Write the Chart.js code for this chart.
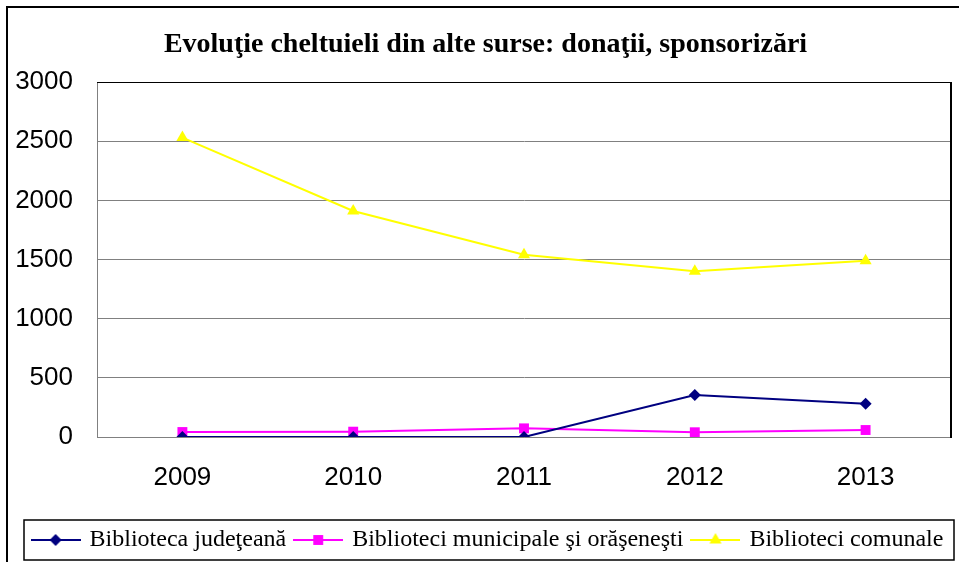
<!DOCTYPE html>
<html><head><meta charset="utf-8">
<script src="https://cdn.jsdelivr.net/npm/chart.js@4/dist/chart.umd.min.js"></script>
<style>html,body{margin:0;padding:0;background:#fff}#wrap{width:959px;height:562px}</style>
</head><body><div id="wrap"><canvas id="c" width="959" height="562"></canvas></div>
<script>
const chartTitle = 'Evoluţie cheltuieli din alte surse: donaţii, sponsorizări';
const years = ['2009', '2010', '2011', '2012', '2013'];
const seriesNames = ['Biblioteca judeţeană', 'Biblioteci municipale şi orăşeneşti', 'Biblioteci comunale'];
const judeteana = [0, 0, 0, 355, 280];
const municipale = [42, 45, 73, 40, 59];
const comunale = [2530, 1910, 1540, 1400, 1490];
const yTicks = [0, 500, 1000, 1500, 2000, 2500, 3000];

const colors = ['#000080', '#FF00FF', '#FFFF00'];
const shapes = ['rectRot', 'rect', 'triangle'];
const radii = [6, 7, 7];

function drawShape(ctx, shape, x, y, r) {
  ctx.beginPath();
  if (shape === 'rectRot') {
    ctx.moveTo(x - r, y); ctx.lineTo(x, y - r); ctx.lineTo(x + r, y); ctx.lineTo(x, y + r);
  } else if (shape === 'rect') {
    const s = Math.SQRT1_2 * r;
    ctx.rect(x - s, y - s, 2 * s, 2 * s);
  } else {
    for (let i = 0; i < 3; i++) {
      const a = i * 2 * Math.PI / 3;
      const px = x + Math.sin(a) * r, py = y - Math.cos(a) * r;
      if (i === 0) ctx.moveTo(px, py); else ctx.lineTo(px, py);
    }
  }
  ctx.closePath();
  ctx.fill();
}
function makeIcon(i) {
  const c = document.createElement('canvas');
  c.width = 50; c.height = 20;
  const g = c.getContext('2d');
  g.strokeStyle = colors[i]; g.fillStyle = colors[i]; g.lineWidth = 2;
  g.beginPath(); g.moveTo(0, 10); g.lineTo(50, 10); g.stroke();
  drawShape(g, shapes[i], 25, 10, radii[i]);
  return c;
}
const icons = [0, 1, 2].map(makeIcon);

const framePlugin = {
  id: 'frame',
  afterLayout(chart) {
    if (chart.legend) { chart.legend.left += 8; chart.legend.right += 8; }
    if (chart.titleBlock) { chart.titleBlock.left += 5; chart.titleBlock.right += 5; }
  },
  beforeDatasetsDraw(chart) {
    const {ctx, chartArea: a} = chart;
    ctx.save();
    ctx.strokeStyle = '#000';
    ctx.lineWidth = 1;
    ctx.beginPath(); ctx.moveTo(a.left, Math.round(a.top) + 0.5); ctx.lineTo(a.right, Math.round(a.top) + 0.5); ctx.stroke();
    ctx.lineWidth = 2;
    ctx.beginPath(); ctx.moveTo(Math.round(a.right), a.top); ctx.lineTo(Math.round(a.right), a.bottom + 1); ctx.stroke();
    ctx.restore();
  },
  afterDraw(chart) {
    const ctx = chart.ctx;
    ctx.save();
    ctx.strokeStyle = '#000';
    ctx.lineWidth = 2;
    ctx.beginPath(); ctx.moveTo(7, 562); ctx.lineTo(7, 7); ctx.lineTo(959, 7); ctx.stroke();
    const hb = chart.legend.legendHitBoxes;
    if (hb && hb.length) {
      const left = Math.min(...hb.map(b => b.left)) - 10;
      const right = Math.max(...hb.map(b => b.left + b.width)) + 10;
      const cy = hb[0].top + hb[0].height / 2;
      ctx.lineWidth = 1.5;
      ctx.strokeRect(Math.round(left), Math.round(cy - 20), Math.round(right - left), 40);
    }
    ctx.restore();
  }
};

const seriesData = [judeteana, municipale, comunale];
new Chart(document.getElementById('c'), {
  type: 'line',
  data: {
    labels: years,
    datasets: seriesData.map((d, i) => ({
      label: seriesNames[i],
      data: d,
      borderColor: colors[i],
      backgroundColor: colors[i],
      borderWidth: 2,
      pointStyle: shapes[i],
      pointRadius: radii[i],
      pointBorderWidth: 0,
      pointBackgroundColor: colors[i],
      tension: 0,
      fill: false
    }))
  },
  options: {
    responsive: false,
    animation: false,
    devicePixelRatio: 1,
    layout: {padding: {left: 10, right: 8, top: 10, bottom: 0}},
    plugins: {
      title: {
        display: true, text: chartTitle, color: '#000',
        font: {family: 'Liberation Serif', size: 28, weight: 'bold'},
        padding: {top: 18, bottom: 20.4}
      },
      legend: {
        position: 'bottom',
        labels: {
          usePointStyle: true, pointStyleWidth: 44, boxHeight: 20,
          color: '#000', padding: 10,
          font: {family: 'Liberation Serif', size: 24},
          generateLabels(chart) {
            const items = Chart.defaults.plugins.legend.labels.generateLabels(chart);
            items.forEach((it, i) => { it.pointStyle = icons[i]; });
            return items;
          }
        }
      },
      tooltip: {enabled: false}
    },
    scales: {
      x: {
        offset: true,
        grid: {display: false, drawTicks: false},
        border: {color: '#808080', width: 1},
        ticks: {color: '#000', font: {family: 'Liberation Sans', size: 26}, padding: 25},
        afterFit(s) { s.height = 81; }
      },
      y: {
        min: 0, max: 3000,
        afterBuildTicks(s) { s.ticks = yTicks.map(v => ({value: v})); },
        grid: {color: '#808080', drawTicks: false},
        border: {color: '#808080', width: 1},
        ticks: {color: '#000', font: {family: 'Liberation Sans', size: 26}, padding: 24,
          callback: v => String(v)},
        afterFit(s) { s.width = 87; }
      }
    }
  },
  plugins: [framePlugin]
});
</script>
</body></html>
